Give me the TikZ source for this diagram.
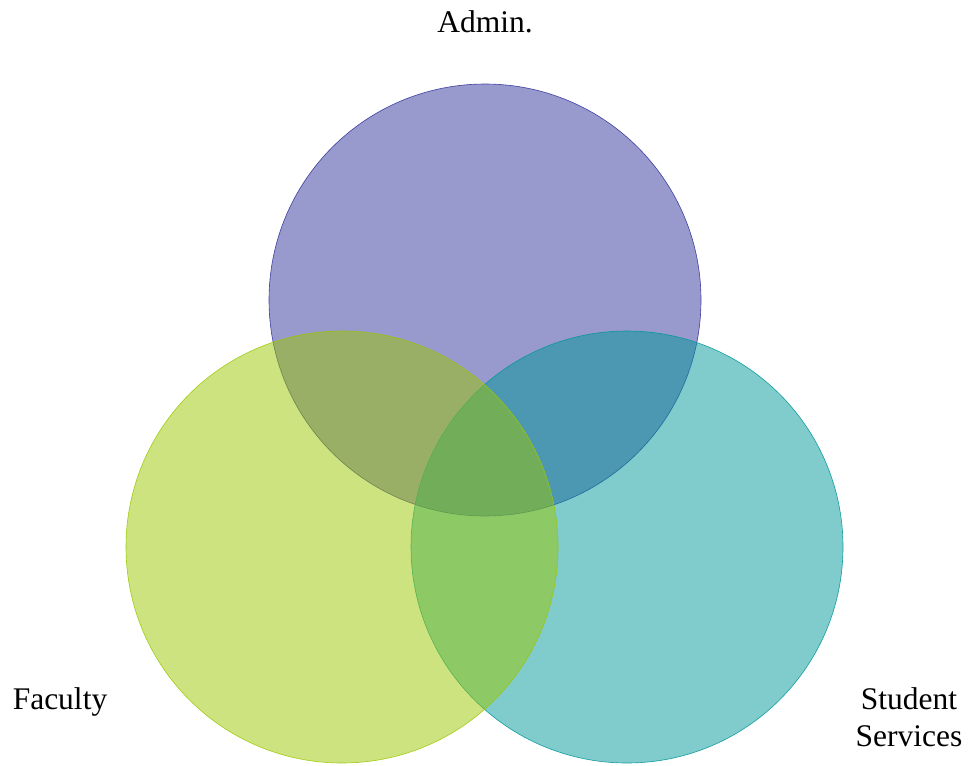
\documentclass[tikz,border=0pt]{standalone}
\usepackage{fontspec}
\setmainfont{Liberation Serif}
\definecolor{adminblue}{RGB}{49,51,153}
\definecolor{facgreen}{RGB}{155,199,1}
\definecolor{stuteal}{RGB}{1,151,153}
\tikzset{
	setcircle/.style={circle, minimum size=432pt, inner sep=0pt, fill opacity=0.5, draw opacity=0.9, line width=0.6pt},
	setlabel/.style={font=\fontsize{31.5}{37}\selectfont, align=center}
}
\begin{document}
\begin{tikzpicture}[x=1pt, y=-1pt]
		\useasboundingbox (0,0) rectangle (968,765);
		% the three sets (faculty goes on top)
		\node[setcircle, fill=adminblue, draw=adminblue] (admin) at (485,300) {};
		\node[setcircle, fill=stuteal, draw=stuteal] (students) at (627,547) {};
		\node[setcircle, fill=facgreen, draw=facgreen] (faculty) at (342,547) {};
		% names
		\node[setlabel] (adminlbl) at (485,22) {Admin.};
		\node[setlabel] (faclbl) at (60,702) {Faculty};
		\node[setlabel] (stulbl) at (909,717) {Student\\Services};
	\end{tikzpicture}
\end{document}
